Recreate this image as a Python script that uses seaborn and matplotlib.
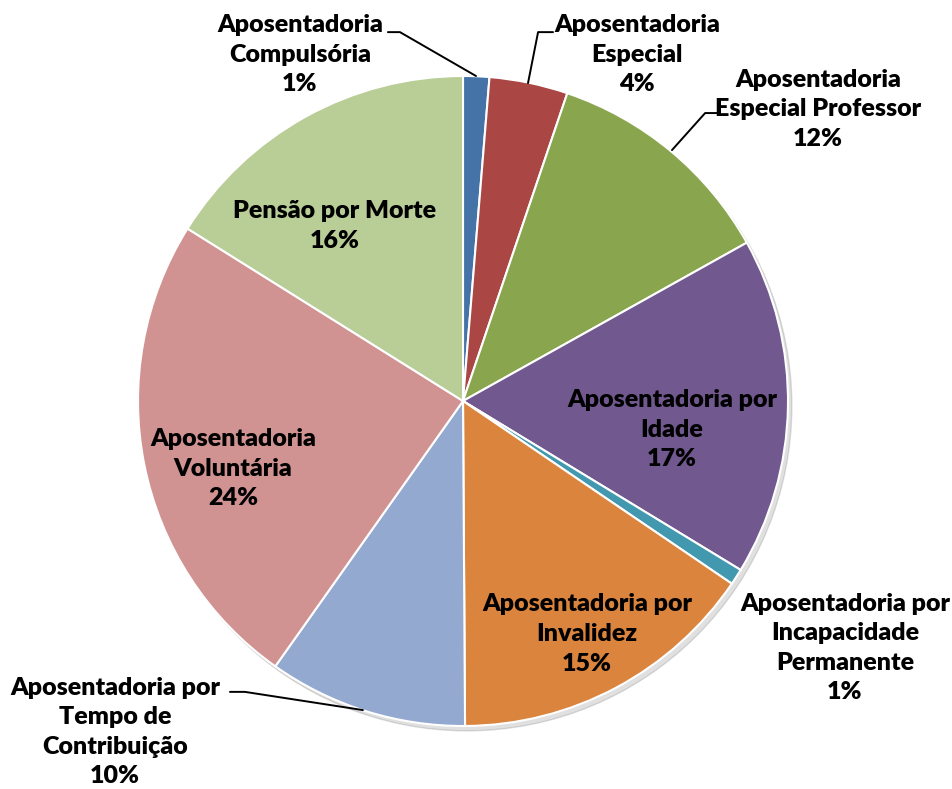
import matplotlib
matplotlib.use("Agg")
import matplotlib.pyplot as plt
import seaborn as sns

# dados (percentuais)
categorias = [
    "Aposentadoria\nCompulsória",
    "Aposentadoria\nEspecial",
    "Aposentadoria\nEspecial Professor",
    "Aposentadoria por\nIdade",
    "Aposentadoria por\nIncapacidade\nPermanente",
    "Aposentadoria por\nInvalidez",
    "Aposentadoria por\nTempo de\nContribuição",
    "Aposentadoria\nVoluntária",
    "Pensão por Morte",
]
valores = [1.3, 3.9, 11.7, 16.8, 0.8, 15.4, 9.9, 24.1, 16.1]

cores = ["#4573A7", "#AA4643", "#89A54E", "#71588F", "#4198AF",
         "#DB843D", "#93A9CF", "#D19392", "#B9CD96"]

# posição dos rótulos (centro do texto) e linhas de chamada, em unidades do raio
pos_rotulos = [(-0.502, 1.065), (0.535, 1.065), (1.092, 0.898), (0.643, -0.089),
               (1.175, -0.760), (0.382, -0.717), (-1.071, -1.018), (-0.708, -0.209),
               (-0.394, 0.538)]
linhas = {
    0: [(-0.231, 1.135), (-0.194, 1.135), (0.040, 1.0)],
    1: [(0.277, 1.135), (0.231, 1.135), (0.200, 0.978)],
    2: [(0.785, 0.886), (0.745, 0.886), (0.643, 0.772)],
    6: [(-0.717, -0.895), (-0.671, -0.895), (-0.308, -0.951)],
}

sns.set_theme(style="white")
plt.rcParams['font.family'] = ['Lato', 'DejaVu Sans']

fig = plt.figure(figsize=(9.52, 7.89), dpi=100)
ax = fig.add_axes([0, 0, 1, 1])

# sombra leve
sombra = plt.Circle((0.012, -0.015), 1.0, color="#000000", alpha=0.12, zorder=0)
ax.add_patch(sombra)

ax.pie(valores, colors=cores, startangle=90, counterclock=False,
       radius=1.0, center=(0, 0), frame=True,
       wedgeprops={'edgecolor': 'white', 'linewidth': 1.5})

for i, (cat, val) in enumerate(zip(categorias, valores)):
    x, y = pos_rotulos[i]
    ax.text(x, y, f"{cat}\n{val:.0f}%", ha='center', va='center',
            fontsize=18, fontweight='heavy', color='black', linespacing=1.42)
    if i in linhas:
        xs, ys = zip(*linhas[i])
        ax.plot(xs, ys, color='black', lw=1.4)

px = 325.0
ax.set_xlim(-463 / px, (952 - 463) / px)
ax.set_ylim(-(789 - 401) / px, 401 / px)
ax.set_aspect('auto')
ax.axis('off')

fig.savefig("out.png", dpi=100, facecolor='white')
